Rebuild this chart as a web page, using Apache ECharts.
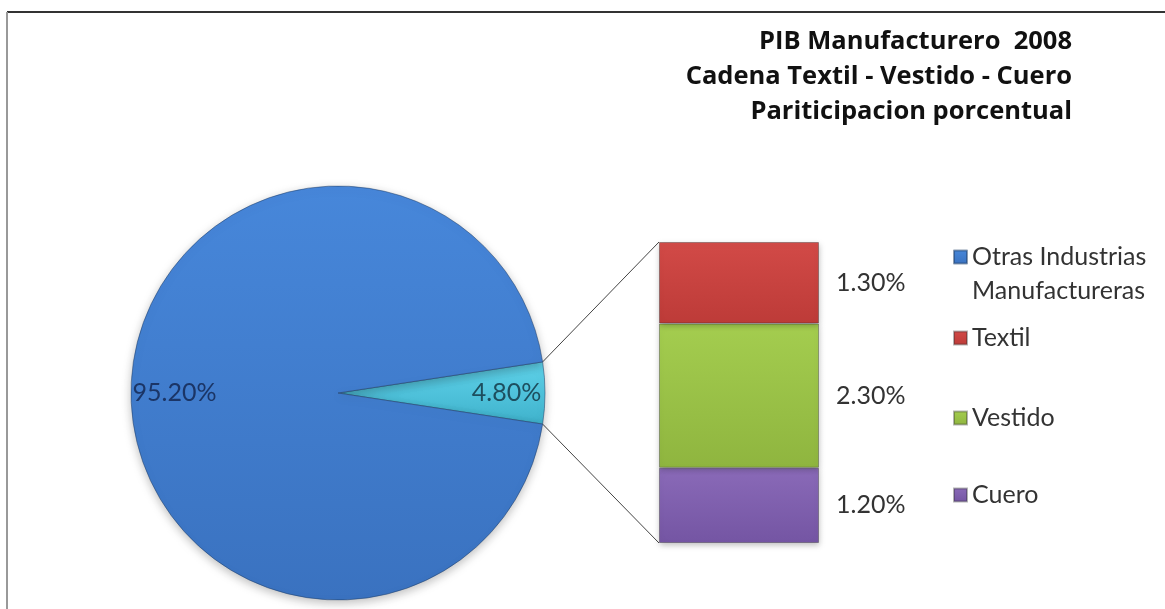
<!DOCTYPE html>
<html><head><meta charset="utf-8">
<script src="https://cdn.jsdelivr.net/npm/echarts@6/dist/echarts.min.js"></script>
<style>html,body{margin:0;padding:0;background:#fff}#c{width:1165px;height:609px}</style>
</head><body><div id="c"></div>
<script>
// ---- data ----
const titleLines = ['PIB Manufacturero  2008', 'Cadena Textil - Vestido - Cuero', 'Pariticipacion porcentual'];
const pieNames = ['Cadena Textil - Vestido - Cuero', 'Otras Industrias Manufactureras'];
const pieValues = [4.8, 95.2];
const barCategory = ['Cadena'];
const barNames = ['Cuero', 'Vestido', 'Textil'];
const barValues = [1.2, 2.3, 1.3];
const legendNames = ['Otras Industrias Manufactureras', 'Textil', 'Vestido', 'Cuero'];

// ---- styles ----
const FONT = 'Lato';
const pieColors = [
  new echarts.graphic.LinearGradient(0,0,0,1,[{offset:0,color:'#5fd2ea'},{offset:1,color:'#3fb2cc'}]),
  new echarts.graphic.LinearGradient(0,0,0,1,[{offset:0,color:'#4787da'},{offset:1,color:'#3a72c0'}])
];
const barColors = {
  Cuero: new echarts.graphic.LinearGradient(0,0,0,1,[{offset:0,color:'#8a6ab8'},{offset:1,color:'#7455a3'}]),
  Vestido: new echarts.graphic.LinearGradient(0,0,0,1,[{offset:0,color:'#a4cd4f'},{offset:1,color:'#8fb53f'}]),
  Textil: new echarts.graphic.LinearGradient(0,0,0,1,[{offset:0,color:'#d24a47'},{offset:1,color:'#bd3b38'}])
};
const pieLabelStyle = [
  {color:'#1d4e5e', padding:[10,0,0,124]},
  {color:'#1b3566', padding:[10,114,0,0]}
];
const legendTops = [206, 321, 401, 478];

const pieCx = 338, pieCy = 393, pieR = 207;
const barW = 160;
const pieTotal = pieValues.reduce((a,b)=>a+b,0);
const barTotal = barValues.reduce((a,b)=>a+b,0);

const chart = echarts.init(document.getElementById('c'), null, {renderer:'canvas'});

const series = [{
  type:'pie',
  center:[pieCx, pieCy],
  radius:pieR,
  startAngle: pieValues[0]/pieTotal*360/2,
  clockwise:true,
  silent:true,
  label:{show:true, position:'inside', rotate:0, fontFamily:FONT, fontSize:25,
    formatter: p => p.value.toFixed(2) + '%'},
  labelLine:{show:false},
  itemStyle:{borderColor:'rgba(30,60,100,0.5)', borderWidth:1, shadowBlur:10, shadowColor:'rgba(0,0,0,0.25)', shadowOffsetY:3},
  data: pieNames.map((n,i)=>({name:n, value:pieValues[i], itemStyle:{color:pieColors[i]}, label:pieLabelStyle[i]}))
}];
barNames.forEach((n,i)=>{
  series.push({
    type:'bar', name:n, stack:'cadena', barWidth:barW, silent:true,
    itemStyle:{color:barColors[n], borderColor:'rgba(40,40,40,0.35)', borderWidth:1, shadowBlur:6, shadowColor:'rgba(0,0,0,0.25)', shadowOffsetY:2},
    label:{show:true, position:'right', distance:17, fontFamily:FONT, fontSize:25, color:'#333',
      padding:[8,0,0,0],
      formatter: p => p.value.toFixed(2) + '%'},
    data:[barValues[i]]
  });
});

const legends = legendNames.map((n,i)=>({
  data:[n], orient:'vertical', left:953, top:legendTops[i], padding:0,
  icon:'rect', itemWidth:13, itemHeight:13, itemGap:0, selectedMode:false,
  formatter: name => name.indexOf(' Manufactureras') >= 0 ? '\u00a0\n' + name.replace(' Manufactureras', '\nManufactureras') : name,
  textStyle:{fontFamily:FONT, fontSize:25, color:'#333', lineHeight:34}
}));

chart.setOption({
  animation:false,
  backgroundColor:'#fff',
  title:{text:titleLines.join('\n'), left:1067, top:19, textAlign:'right',
    textStyle:{fontFamily:'Open Sans', fontSize:25.5, fontWeight:'bold', color:'#111', lineHeight:35, align:'right'}},
  legend:legends,
  grid:{left:658, top:242, width:162, bottom:66},
  xAxis:{type:'category', data:barCategory, show:false},
  yAxis:{type:'value', min:0, max:barTotal, show:false},
  series:series,
  graphic:[
    {type:'line', id:'bt', shape:{x1:7,y1:12,x2:1165,y2:12}, style:{stroke:'#333', lineWidth:2}},
    {type:'line', id:'bl', shape:{x1:7,y1:12,x2:7,y2:609}, style:{stroke:'#999', lineWidth:2}}
  ]
});

// connector lines from the pie slice edge to the stacked bar corners
const half = pieValues[0]/pieTotal*Math.PI;
const p1 = [pieCx + pieR*Math.cos(half), pieCy - pieR*Math.sin(half)];
const p2 = [pieCx + pieR*Math.cos(half), pieCy + pieR*Math.sin(half)];
const bTop = chart.convertToPixel({gridIndex:0}, [barCategory[0], barTotal]);
const bBot = chart.convertToPixel({gridIndex:0}, [barCategory[0], 0]);
const bx = bTop[0] - barW/2;
chart.setOption({graphic:[
  {type:'line', id:'c1', shape:{x1:p1[0],y1:p1[1],x2:bx,y2:bTop[1]}, style:{stroke:'#444', lineWidth:1}},
  {type:'line', id:'c2', shape:{x1:p2[0],y1:p2[1],x2:bx,y2:bBot[1]}, style:{stroke:'#444', lineWidth:1}}
]});
</script></body></html>
